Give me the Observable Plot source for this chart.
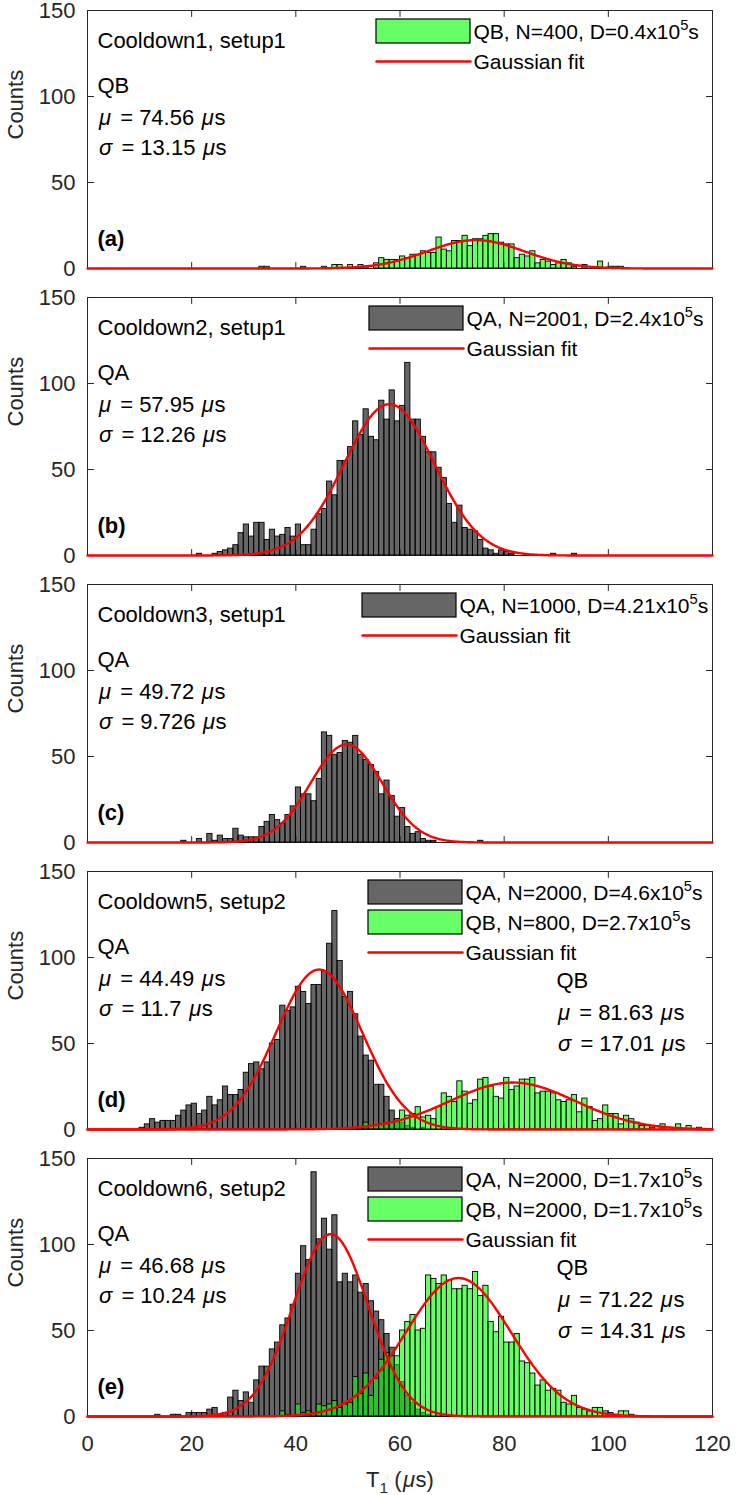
<!DOCTYPE html>
<html><head><meta charset="utf-8">
<script src="https://cdn.jsdelivr.net/npm/d3@7"></script>
<script src="https://cdn.jsdelivr.net/npm/@observablehq/plot@0.6"></script>
<style>
html,body{margin:0;padding:0;background:#fff;}
#chart{width:747px;}
#chart svg{display:block;}
</style></head><body><div id="chart"></div>
<script>
// ---------------- data (1 µs bins; counts start at the given bin) ----------------
const xTicks = [0, 20, 40, 60, 80, 100, 120];
const yTicks = [0, 50, 100, 150];

const aQB_start = 33;
const aQB = [1,1,0,0,0,0,0,0,1,0, 0,0,1,0,2,2,0,2,0,2, 1,0,3,6,5,5,5,7,6,8, 8,10,9,9,18,11,10,16,16,19,
             13,17,17,19,20,20,15,14,14,6, 8,7,10,3,5,4,2,3,5,3, 1,0,2,0,0,4,0,1,1,1];

const bQA_start = 21;
const bQA = [1,0,0,1,2,3,4,6,13,18, 11,19,19,9,15,11,12,16,11,18, 6,6,15,24,27,43,35,55,55,63,
             78,70,85,69,67,90,79,96,78,87, 112,79,79,69,60,60,51,45,30,19, 29,16,15,14,9,4,3,1,3,2,
             1,0,0,0,0,0,0,0,1,0, 0,0,1];

const cQA_start = 18;
const cQA = [1,0,0,2,0,5,1,4,2,2, 8,4,3,3,3,9,12,16,13,11, 16,21,32,28,28,24,37,64,62,51,
             52,59,58,62,51,48,45,41,28,36, 27,15,20,9,5,6,2,1,1,0, 0,0,0,0,0,0,0,1];

const dQA_start = 10;
const dQA = [1,3,6,4,5,5,5,8,11,14, 15,9,11,19,14,17,25,20,20,23, 33,38,39,35,39,50,52,72,69,71,
             83,80,73,84,84,92,108,127,98,77, 80,67,54,43,40,26,26,19,11,6, 4,2,1,0,1];

const dQB_start = 53;
const dQB = [4,2,2,3,3,4,6,11,8,9, 13,7,8,6,13,21,19,16,28,22, 15,17,29,30,25,19,18,30,23,25,
             29,29,30,21,22,22,21,17,16,17, 20,10,18,13,5,6,14,9,9,3, 8,6,4,2,2,1,0,3,0,0, 3,0,2,0,1];

const eQA_start = 13;
const eQA = [1,0,0,1,1,0,2,2,2,2, 4,5,1,2,11,15,9,14,8,21, 29,29,39,43,53,57,65,83,99,91,
             142,103,115,97,117,78,83,78,82,72, 77,67,61,56,48,40,30,20,12,8, 4,2,1];

const eQB_start = 37;
const eQB = [3,1,0,7,2,3,2,7,6,7, 9,5,7,8,23,13,25,12,22,33, 37,35,35,50,55,59,50,51,82,80,
             77,82,79,74,74,76,74,84,70,76, 55,49,58,43,43,48,32,31,25,18, 21,15,16,15,8,7,12,5,4,3,
             5,5,3,2,1,3,3,1];

// Gaussian fit parameters: [amplitude, mu, sigma]  (form a*exp(-((x-mu)/sigma)^2))
const fitA_QB = [16.5, 74.56, 13.15];
const fitB_QA = [88, 57.95, 12.26];
const fitC_QA = [57, 49.72, 9.726];
const fitD_QA = [93, 44.49, 11.7];
const fitD_QB = [27.3, 81.63, 17.01];
const fitE_QA = [106, 46.68, 10.24];
const fitE_QB = [80.5, 71.22, 14.31];

const panelTitles = ["Cooldown1, setup1", "Cooldown2, setup1", "Cooldown3, setup1", "Cooldown5, setup2", "Cooldown6, setup2"];
const panelLetters = ["(a)", "(b)", "(c)", "(d)", "(e)"];
const legendA = ["QB, N=400, D=0.4x10^5s"];
const legendB = ["QA, N=2001, D=2.4x10^5s"];
const legendC = ["QA, N=1000, D=4.21x10^5s"];
const legendD = ["QA, N=2000, D=4.6x10^5s", "QB, N=800, D=2.7x10^5s"];
const legendE = ["QA, N=2000, D=1.7x10^5s", "QB, N=2000, D=1.7x10^5s"];
const fitLabel = "Gaussian fit";

// ---------------- styling ----------------
const FONT = "'Liberation Sans', Arial, Helvetica, sans-serif";
const FS = 22;      // annotations, axes
const FSL = 21;     // legend
const axisColor = "#262626";
const GRAY = "#000000", GREEN = "#00ff00", ALPHA = 0.6;
const tickShape = {draw(ctx, l) { ctx.moveTo(0, 0); ctx.lineTo(0, -l); }};

const binsOf = (start, counts) => counts.map((c, i) => ({x1: start + i, x2: start + i + 1, y1: 0, y2: c})).filter(d => d.y2 > 0);
const curveOf = ([a, mu, s]) => d3.range(0, 120.0001, 0.25).map(x => ({x, y: a * Math.exp(-(((x - mu) / s) ** 2))}));
const stat = (name, [, mu, s]) => [name, `μ = ${mu} μs`, `σ = ${s} μs`];

const panels = [
  {series: [{bins: binsOf(aQB_start, aQB), fill: GREEN}], fits: [fitA_QB],
   legend: [{fill: GREEN, label: legendA[0]}], legendX: 376,
   left: stat("QB", fitA_QB), right: null},
  {series: [{bins: binsOf(bQA_start, bQA), fill: GRAY}], fits: [fitB_QA],
   legend: [{fill: GRAY, label: legendB[0]}], legendX: 369,
   left: stat("QA", fitB_QA), right: null},
  {series: [{bins: binsOf(cQA_start, cQA), fill: GRAY}], fits: [fitC_QA],
   legend: [{fill: GRAY, label: legendC[0]}], legendX: 362,
   left: stat("QA", fitC_QA), right: null},
  {series: [{bins: binsOf(dQA_start, dQA), fill: GRAY}, {bins: binsOf(dQB_start, dQB), fill: GREEN}], fits: [fitD_QA, fitD_QB],
   legend: [{fill: GRAY, label: legendD[0]}, {fill: GREEN, label: legendD[1]}], legendX: 368,
   left: stat("QA", fitD_QA), right: stat("QB", fitD_QB)},
  {series: [{bins: binsOf(eQA_start, eQA), fill: GRAY}, {bins: binsOf(eQB_start, eQB), fill: GREEN}], fits: [fitE_QA, fitE_QB],
   legend: [{fill: GRAY, label: legendE[0]}, {fill: GREEN, label: legendE[1]}], legendX: 368,
   left: stat("QA", fitE_QA), right: stat("QB", fitE_QB)}
];

// turn ^x / _x into super/subscripts and set Greek letters in italic (TeX-like)
function richify(svg) {
  d3.select(svg).selectAll("text").each(function() {
    if (this.querySelector("tspan")) return;
    const t = this.textContent;
    if (!/[\^_μσ]/.test(t)) return;
    const fs = parseFloat(getComputedStyle(this).fontSize) || FS;
    const parts = [];
    for (let i = 0; i < t.length; i++) {
      const ch = t[i];
      if ((ch === "^" || ch === "_") && i + 1 < t.length) { parts.push({s: t[i + 1], k: ch}); i++; }
      else if (ch === "μ" || ch === "σ") parts.push({s: ch, k: "i"});
      else if (parts.length && parts[parts.length - 1].k === "n") parts[parts.length - 1].s += ch;
      else parts.push({s: ch, k: "n"});
    }
    const sel = d3.select(this); sel.text(null);
    let cur = 0, prevItalic = false;
    for (const p of parts) {
      const target = p.k === "^" ? -0.42 * fs : p.k === "_" ? 0.28 * fs : 0;
      const ts = sel.append("tspan").text(p.s);
      if (target !== cur) ts.attr("dy", target - cur);
      cur = target;
      if (p.k === "^" || p.k === "_") ts.attr("font-size", 0.7 * fs);
      if (p.k === "i") { ts.attr("font-style", "italic").attr("dx", 1.5); }
      else if (prevItalic) ts.attr("dx", p.s.startsWith(" ") ? 3 : 0.5);
      prevItalic = p.k === "i";
    }
  });
}

function panel(p, idx, last) {
  const mt = 10, ml = 87, mr = 35, mb = last ? 79 : 19, ph = 258, W = 747;
  const pw = W - ml - mr;
  const X = px => (px - ml) / pw * 120;          // svg px -> µs
  const Y = off => 150 * (1 - off / ph);         // px below frame top -> counts
  const tick = (data, opts) => Plot.vector(data, {length: 6, anchor: "start", shape: tickShape, stroke: axisColor, strokeWidth: 1, ...opts});
  const marks = [
    Plot.frame({stroke: axisColor, strokeWidth: 1}),
    tick(xTicks, {x: d => d, frameAnchor: "bottom", rotate: 0}),
    tick(xTicks, {x: d => d, frameAnchor: "top", rotate: 180}),
    tick(yTicks, {y: d => d, frameAnchor: "left", rotate: 90}),
    tick(yTicks, {y: d => d, frameAnchor: "right", rotate: -90}),
    Plot.axisY(yTicks, {tickSize: 0, tickPadding: 12, fontSize: FS, color: axisColor, label: null}),
    Plot.text(["Counts"], {frameAnchor: "left", dx: -72, rotate: -90, fontSize: FS, fill: axisColor})
  ];
  for (const s of p.series) {
    marks.push(Plot.rect(s.bins, {x1: "x1", x2: "x2", y1: "y1", y2: "y2", fill: s.fill, fillOpacity: ALPHA, stroke: "black", strokeWidth: 0.9}));
  }
  for (const f of p.fits) {
    marks.push(Plot.line(curveOf(f), {x: "x", y: "y", stroke: "#ff0000", strokeWidth: 2.4}));
  }
  // legend
  const rows = [...p.legend.map(l => ({...l, kind: "patch"})), {label: fitLabel, kind: "line"}];
  rows.forEach((r, i) => {
    const off = 21 + 30 * i, lx = p.legendX;
    if (r.kind === "patch") {
      marks.push(Plot.rect([{x1: X(lx), x2: X(lx + 94), y1: Y(off + 12), y2: Y(off - 12)}],
        {x1: "x1", x2: "x2", y1: "y1", y2: "y2", fill: r.fill, fillOpacity: ALPHA, stroke: "black", strokeWidth: 1.2}));
    } else {
      marks.push(Plot.line([{x: X(lx), y: Y(off)}, {x: X(lx + 94), y: Y(off)}], {x: "x", y: "y", stroke: "#ff0000", strokeWidth: 2.4}));
    }
    marks.push(Plot.text([{x: X(lx + 97), y: Y(off + 1), t: r.label}], {x: "x", y: "y", text: "t", textAnchor: "start", lineAnchor: "middle", fontSize: FSL, fill: "black"}));
  });
  // annotations
  const leftTexts = [panelTitles[idx], ...p.left].map((t, i) => ({x: X(97), y: Y([30, 75, 107, 137][i]), t}));
  marks.push(Plot.text(leftTexts, {x: "x", y: "y", text: "t", textAnchor: "start", lineAnchor: "middle", fontSize: FS, fill: "black"}));
  if (p.right) {
    const rt = p.right.map((t, i) => ({x: X(556), y: Y([109, 141, 172][i]), t}));
    marks.push(Plot.text(rt, {x: "x", y: "y", text: "t", textAnchor: "start", lineAnchor: "middle", fontSize: FS, fill: "black"}));
  }
  marks.push(Plot.text([{x: X(97), y: Y(228), t: panelLetters[idx]}], {x: "x", y: "y", text: "t", textAnchor: "start", lineAnchor: "middle", fontSize: FS, fontWeight: "bold", fill: "black"}));
  if (last) {
    marks.push(Plot.axisX(xTicks, {tickSize: 0, tickPadding: 19, fontSize: FS, color: axisColor, label: null}));
    marks.push(Plot.text(["T_1 (μs)"], {frameAnchor: "bottom", dy: 63, fontSize: FS, fill: axisColor, lineAnchor: "middle"}));
  }
  const svg = Plot.plot({
    width: W, height: mt + ph + mb,
    marginTop: mt, marginBottom: mb, marginLeft: ml, marginRight: mr,
    x: last ? {domain: [0, 120]} : {domain: [0, 120], axis: null},
    y: {domain: [0, 150]},
    style: {fontFamily: FONT, fontSize: FS + "px", background: "white", overflow: "visible"},
    marks
  });
  return svg;
}

const root = document.getElementById("chart");
panels.forEach((p, i) => {
  const svg = panel(p, i, i === panels.length - 1);
  root.appendChild(svg);
  richify(svg);
});
</script>
</body></html>
